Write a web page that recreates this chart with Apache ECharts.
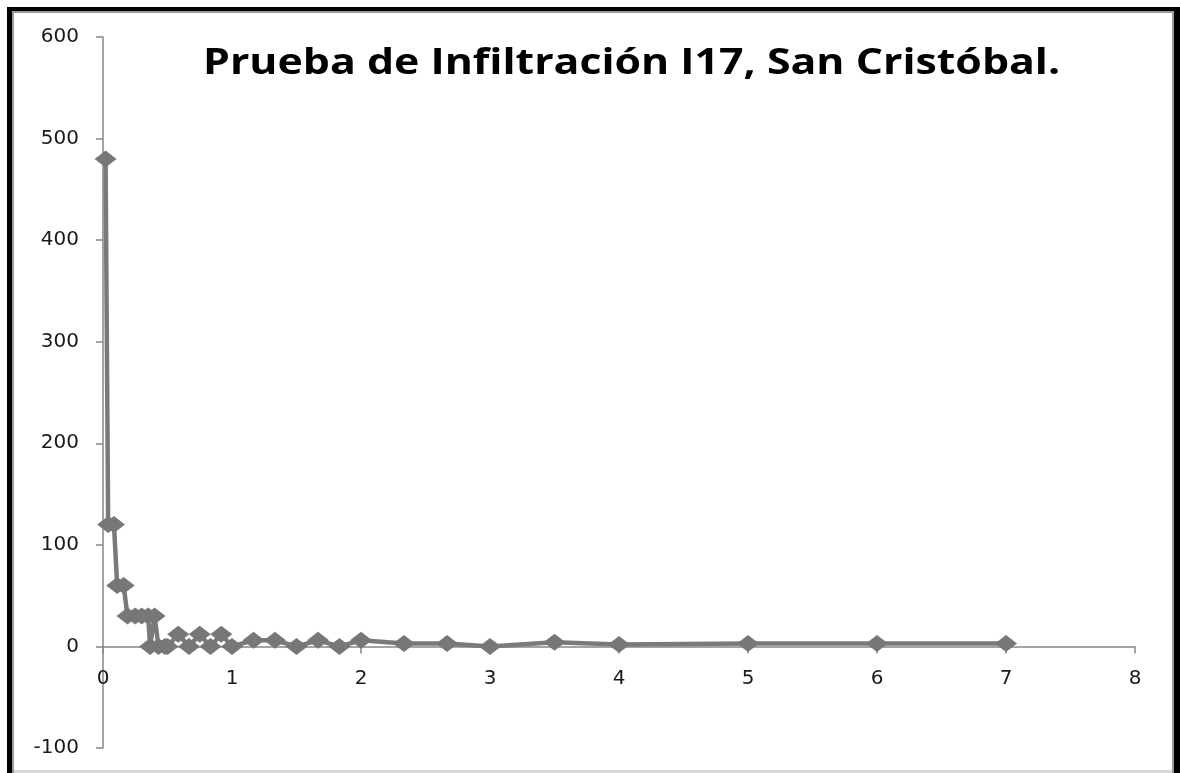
<!DOCTYPE html>
<html>
<head>
<meta charset="utf-8">
<script src="https://cdn.jsdelivr.net/npm/echarts@6/dist/echarts.min.js"></script>
<style>
  html, body { margin: 0; padding: 0; background: #fff; overflow: hidden; }
  .box { position: absolute; }
  #frame-outer { left: 7px; top: 7px; right: 0; bottom: 0; background: #000; }
  #frame-inner { left: 11.7px; top: 10.7px; right: 5.7px; bottom: 0; background: #9a9a9a; }
  #frame-base { left: 14px; right: 8.3px; bottom: 0; height: 3px; background: #d8d8d8; }
  #frame-paper { left: 14px; top: 13.3px; right: 8.3px; bottom: 3px; background: #fff; }
  #chart { left: 0; top: 0; width: 1180px; height: 773px; }
</style>
</head>
<body>
<div id="frame-outer" class="box"></div>
<div id="frame-inner" class="box"></div>
<div id="frame-base" class="box"></div>
<div id="frame-paper" class="box"></div>
<div id="chart" class="box"></div>
<script>
// Elapsed time (hours) and infiltration rate readings
const timeHours = [0.02, 0.04, 0.085, 0.11, 0.16, 0.19, 0.25, 0.30, 0.35, 0.365, 0.40, 0.43, 0.48, 0.50,
                   0.583, 0.667, 0.75, 0.833, 0.917, 1.0, 1.167, 1.333, 1.5, 1.667, 1.833, 2.0,
                   2.333, 2.667, 3.0, 3.5, 4.0, 5.0, 6.0, 7.0];
const infiltration = [480, 120, 120, 60, 60, 30, 30, 30, 30, 0, 30, 0, 0, 0,
                      12, 0, 12, 0, 12, 0, 6, 6, 0, 6, 0, 6,
                      3, 3, 0, 4, 2, 3, 3, 3];
const titleText = 'Prueba de Infiltración I17, San Cristóbal.';

const yMin = -100, yMax = 600;
const gridTop = 37, gridBottom = 25;

const points = timeHours.map((t, i) => [t, infiltration[i]]);
const axisGray = '#868686';
const labelFont = { fontFamily: 'DejaVu Sans', fontSize: 20, color: '#1a1a1a' };

const el = document.getElementById('chart');
const chart = echarts.init(el, null, { renderer: 'canvas' });
const plotH = chart.getHeight() - gridTop - gridBottom;
// lift the x axis up to the zero line
const zeroOffset = -plotH * (0 - yMin) / (yMax - yMin);

chart.setOption({
  backgroundColor: 'transparent',
  animation: false,
  graphic: [{
    type: 'text',
    x: 203, y: 46,
    scaleX: 1.19,
    style: {
      text: titleText,
      fontFamily: 'Open Sans',
      fontWeight: 'bold',
      fontSize: 36,
      fill: '#000',
      textAlign: 'left',
      textVerticalAlign: 'top'
    }
  }],
  grid: { left: 103, right: 45, top: gridTop, bottom: gridBottom, containLabel: false },
  xAxis: {
    type: 'value',
    min: 0, max: 8, interval: 1,
    offset: zeroOffset,
    axisLine: { onZero: false, lineStyle: { color: axisGray, width: 1.5 } },
    axisTick: { show: true, length: 7, lineStyle: { color: axisGray, width: 1.5 } },
    axisLabel: Object.assign({ margin: 22 }, labelFont),
    splitLine: { show: false }
  },
  yAxis: {
    type: 'value',
    min: yMin, max: yMax, interval: 100,
    axisLine: { show: true, onZero: false, lineStyle: { color: axisGray, width: 1.5 } },
    axisTick: { show: true, length: 7, lineStyle: { color: axisGray, width: 1.5 } },
    axisLabel: Object.assign({ margin: 24 }, labelFont),
    splitLine: { show: false }
  },
  series: [{
    type: 'line',
    data: points,
    symbol: 'diamond',
    symbolSize: [22, 17],
    showAllSymbol: true,
    lineStyle: { color: '#7a7a7a', width: 4.5 },
    itemStyle: { color: '#777777' },
    z: 3
  }]
});
</script>
</body>
</html>
